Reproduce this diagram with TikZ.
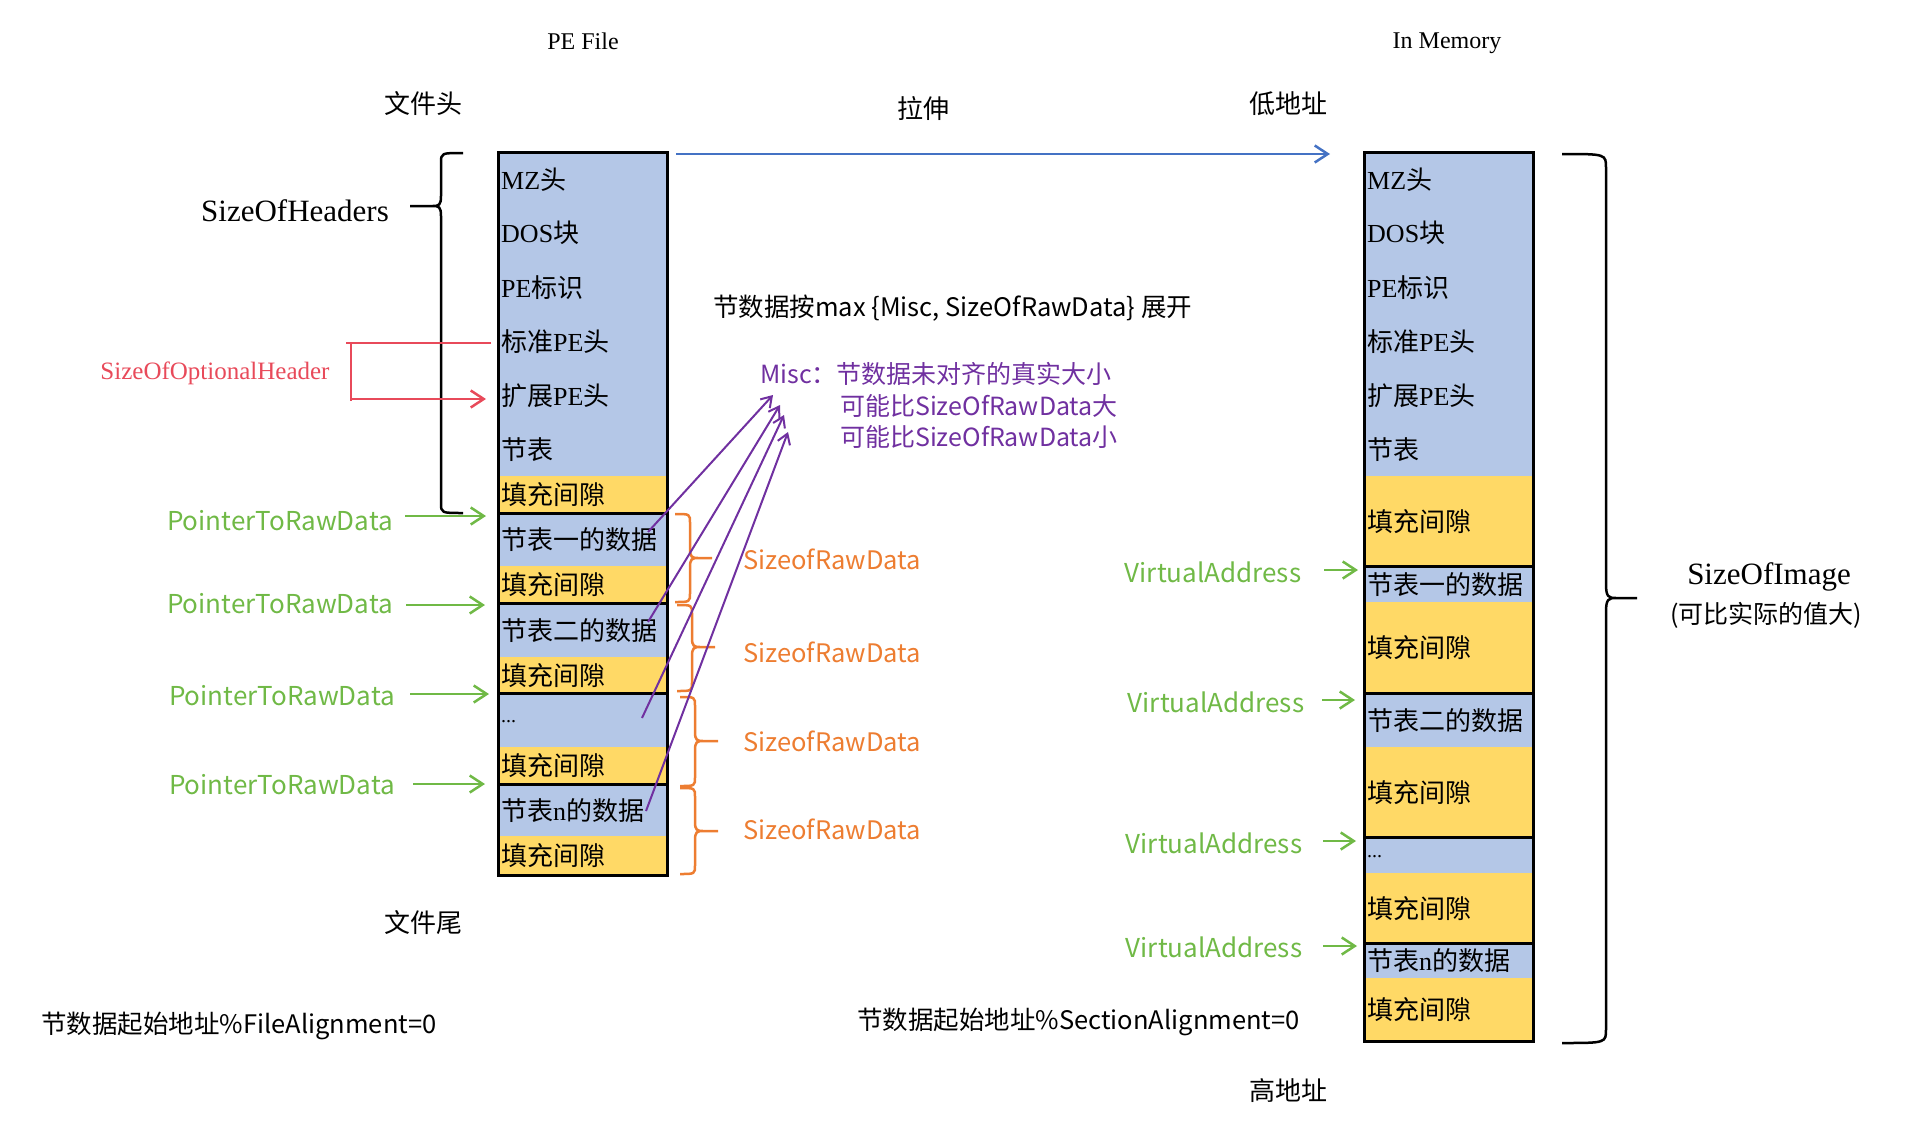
\documentclass[tikz,border=0pt]{standalone}
\usepackage{fontspec}
\setmainfont{Liberation Serif}
\newfontfamily\cjk{Noto Sans CJK SC}
\usetikzlibrary{arrows.meta}
\definecolor{cellblue}{HTML}{B4C7E7}
\definecolor{cellyellow}{HTML}{FFD966}
\definecolor{gr}{HTML}{70B946}
\definecolor{og}{HTML}{ED7D31}
\definecolor{pu}{HTML}{7030A0}
\definecolor{rd}{HTML}{E84A5A}
\definecolor{bl}{HTML}{4472C4}
\newcommand\zh[1]{{\cjk #1}}
\newcommand\fsz[1]{\fontsize{#1}{#1}\selectfont}
% brace: #1 end x, #2 spine x, #3 tip x, #4 top y, #5 tip y, #6 bottom y, #7 signed x radius, #8 y radius, #9 style
\newcommand\bracedraw[9]{%
  \draw[#9] (#1,#4) .. controls (#2,#4) and (#2,#4) .. (#2,{#4+#8}) -- (#2,{#5-#8})
    .. controls (#2,{#5-1}) and ({#2+(#7)/4},#5) .. ({#2+(#7)},#5) -- (#3,#5) -- ({#2+(#7)},#5)
    .. controls ({#2+(#7)/4},#5) and (#2,{#5+1}) .. (#2,{#5+#8}) -- (#2,{#6-#8})
    .. controls (#2,#6) and (#2,#6) .. (#1,#6);}
\begin{document}
\begin{tikzpicture}[x=1pt,y=-1pt,
  cell/.style={inner xsep=3pt, inner ysep=0pt, minimum width=169pt, text width=163pt,
    align=left, anchor=north west, font=\fsz{26}},
  bcell/.style={cell, fill=cellblue},
  ycell/.style={cell, fill=cellyellow},
  sep/.style={line width=3pt, line cap=rect},
  lbl/.style={font=\cjk\fsz{26}},
  wlbl/.style={font=\cjk\fsz{25.5}, anchor=west, inner sep=0pt},
  glbl/.style={font=\cjk\fsz{26}, text=gr},
  olbl/.style={font=\cjk\fsz{25.5}, text=og, anchor=west, inner sep=0pt},
  plbl/.style={font=\cjk\fsz{25}, text=pu, anchor=west, inner sep=0pt},
  barb/.style={-{Straight Barb[length=13pt,width=17pt]}},
  garr/.style={barb, draw=gr, line width=2.5pt},
  parr/.style={-{Straight Barb[length=10pt,width=13pt]}, draw=pu, line width=2pt},
  brc/.style={line width=2.5pt},
]
\useasboundingbox (0,0) rectangle (1924,1124);

% ---------- left box (PE File) ----------
\node[bcell, minimum height=54pt] (l1) at (498,152) {MZ\zh{头}};
\node[bcell, minimum height=54pt] (l2) at (498,206) {DOS\zh{块}};
\node[bcell, minimum height=54pt] (l3) at (498,260) {PE\zh{标识}};
\node[bcell, minimum height=54pt] (l4) at (498,314) {\zh{标准}PE\zh{头}};
\node[bcell, minimum height=54pt] (l5) at (498,368) {\zh{扩展}PE\zh{头}};
\node[bcell, minimum height=54pt] (l6) at (498,422) {\zh{节表}};
\node[ycell, minimum height=37pt] (l7) at (498,476) {\zh{填充间隙}};
\node[bcell, minimum height=53pt] (l8) at (498,513) {\zh{节表一的数据}};
\node[ycell, minimum height=37pt] (l9) at (498,566) {\zh{填充间隙}};
\node[bcell, minimum height=54pt] (l10) at (498,603) {\zh{节表二的数据}};
\node[ycell, minimum height=36pt] (l11) at (498,657) {\zh{填充间隙}};
\node[bcell, minimum height=54pt] (l12) at (498,693) {\fsz{20}\raisebox{-5pt}{...}};
\node[ycell, minimum height=37pt] (l13) at (498,747) {\zh{填充间隙}};
\node[bcell, minimum height=52pt] (l14) at (498,784) {\zh{节表}n\zh{的数据}};
\node[ycell, minimum height=39pt] (l15) at (498,836) {\zh{填充间隙}};
\draw[sep] (l8.north west) -- (l8.north east);
\draw[sep] (l10.north west) -- (l10.north east);
\draw[sep] (l12.north west) -- (l12.north east);
\draw[sep] (l14.north west) -- (l14.north east);
\draw[line width=3pt] (l1.north west) rectangle (l15.south east);

% ---------- right box (In Memory) ----------
\node[bcell, minimum height=54pt] (r1) at (1364,152) {MZ\zh{头}};
\node[bcell, minimum height=54pt] (r2) at (1364,206) {DOS\zh{块}};
\node[bcell, minimum height=54pt] (r3) at (1364,260) {PE\zh{标识}};
\node[bcell, minimum height=54pt] (r4) at (1364,314) {\zh{标准}PE\zh{头}};
\node[bcell, minimum height=54pt] (r5) at (1364,368) {\zh{扩展}PE\zh{头}};
\node[bcell, minimum height=54pt] (r6) at (1364,422) {\zh{节表}};
\node[ycell, minimum height=90pt] (r7) at (1364,476) {\zh{填充间隙}};
\node[bcell, minimum height=36pt] (r8) at (1364,566) {\zh{节表一的数据}};
\node[ycell, minimum height=91pt] (r9) at (1364,602) {\zh{填充间隙}};
\node[bcell, minimum height=54pt] (r10) at (1364,693) {\zh{节表二的数据}};
\node[ycell, minimum height=90pt] (r11) at (1364,747) {\zh{填充间隙}};
\node[bcell, minimum height=36pt] (r12) at (1364,837) {\fsz{20}\raisebox{-5pt}{...}};
\node[ycell, minimum height=70pt] (r13) at (1364,873) {\zh{填充间隙}};
\node[bcell, minimum height=35pt] (r14) at (1364,943) {\zh{节表}n\zh{的数据}};
\node[ycell, minimum height=63pt] (r15) at (1364,978) {\zh{填充间隙}};
\draw[sep] (r8.north west) -- (r8.north east);
\draw[sep] (r10.north west) -- (r10.north east);
\draw[sep] (r12.north west) -- (r12.north east);
\draw[sep] (r14.north west) -- (r14.north east);
\draw[line width=3pt] (r1.north west) rectangle (r15.south east);

% ---------- titles ----------
\node[font=\fsz{24}] (pefile) at (583,41) {PE File};
\node[font=\fsz{24}] (inmem) at (1447,43) {In Memory};
\node[lbl] (wjt) at (423,104) {文件头};
\node[lbl] (ls) at (923,109) {拉伸};
\node[lbl] (ddz) at (1288,104) {低地址};
\node[lbl] (wjw) at (423,923) {文件尾};
\node[lbl] (gdz) at (1288,1091) {高地址};

% stretch arrow
\coordinate (bs) at (676,154);
\coordinate (be) at (1330,154);
\draw[barb, draw=bl, line width=2.5pt] (bs) -- (be);

% ---------- SizeOfHeaders brace ----------
\node[font=\fsz{31}] (soh) at (295,211) {SizeOfHeaders};
\bracedraw{463}{441}{410}{153}{206}{513}{-8}{10}{brc}

% ---------- SizeOfOptionalHeader ----------
\node[font=\fsz{25}, text=rd] (sooh) at (215,373) {SizeOfOptionalHeader};
\coordinate (ra) at (491,343);
\coordinate (rb) at (346,343);
\coordinate (rc) at (351,343);
\coordinate (rd1) at (351,401);
\coordinate (re) at (351,399);
\coordinate (rf) at (486,399);
\draw[draw=rd, line width=2.5pt] (ra) -- (rb) (rc) -- (rd1);
\draw[barb, draw=rd, line width=2.5pt] (re) -- (rf);

% ---------- PointerToRawData ----------
\node[glbl] (p1) at (280,521) {PointerToRawData};
\node[glbl] (p2) at (280,604) {PointerToRawData};
\node[glbl] (p3) at (282,696) {PointerToRawData};
\node[glbl] (p4) at (282,785) {PointerToRawData};
\coordinate (p1s) at (405,516); \coordinate (p1e) at (486,516);
\coordinate (p2s) at (406,605); \coordinate (p2e) at (485,605);
\coordinate (p3s) at (410,694); \coordinate (p3e) at (489,694);
\coordinate (p4s) at (413,784); \coordinate (p4e) at (485,784);
\draw[garr] (p1s) -- (p1e);
\draw[garr] (p2s) -- (p2e);
\draw[garr] (p3s) -- (p3e);
\draw[garr] (p4s) -- (p4e);

% ---------- SizeofRawData braces ----------
\bracedraw{675}{690}{712}{514}{558}{602}{8}{9}{brc, draw=og}
\bracedraw{677}{692}{715}{605}{647}{691}{8}{9}{brc, draw=og}
\bracedraw{680}{695}{718}{697}{741}{786}{8}{9}{brc, draw=og}
\bracedraw{680}{695}{718}{788}{831}{874}{8}{9}{brc, draw=og}
\node[olbl] (s1) at (743,559) {SizeofRawData};
\node[olbl] (s2) at (743,652) {SizeofRawData};
\node[olbl] (s3) at (743,741) {SizeofRawData};
\node[olbl] (s4) at (743,829) {SizeofRawData};

% ---------- max / Misc ----------
\node[wlbl] (maxt) at (713,308) {节数据按max \{Misc, SizeOfRawData\} 展开};
\node[plbl] (misc1) at (760,374) {Misc：节数据未对齐的真实大小};
\node[plbl] (misc2) at (840,406) {可能比SizeOfRawData大};
\node[plbl] (misc3) at (840,437) {可能比SizeOfRawData小};
\coordinate (m1s) at (648,532); \coordinate (m1e) at (773,395);
\coordinate (m2s) at (648,622); \coordinate (m2e) at (780,405);
\coordinate (m3s) at (642,718); \coordinate (m3e) at (784,415);
\coordinate (m4s) at (646,811); \coordinate (m4e) at (788,432);
\draw[parr] (m1s) -- (m1e);
\draw[parr] (m2s) -- (m2e);
\draw[parr] (m3s) -- (m3e);
\draw[parr] (m4s) -- (m4e);

% ---------- VirtualAddress ----------
\node[glbl] (v1) at (1213,572) {VirtualAddress};
\node[glbl] (v2) at (1216,702) {VirtualAddress};
\node[glbl] (v3) at (1214,843) {VirtualAddress};
\node[glbl] (v4) at (1214,947) {VirtualAddress};
\coordinate (v1s) at (1324,570); \coordinate (v1e) at (1358,570);
\coordinate (v2s) at (1322,700); \coordinate (v2e) at (1355,700);
\coordinate (v3s) at (1323,841); \coordinate (v3e) at (1356,841);
\coordinate (v4s) at (1323,946); \coordinate (v4e) at (1357,946);
\draw[garr] (v1s) -- (v1e);
\draw[garr] (v2s) -- (v2e);
\draw[garr] (v3s) -- (v3e);
\draw[garr] (v4s) -- (v4e);

% ---------- SizeOfImage ----------
\bracedraw{1562}{1606}{1637}{154}{598}{1043}{10}{14}{brc}
\node[font=\fsz{31}] (soi) at (1769,577) {SizeOfImage};
\node[font=\cjk\fsz{25}] (soi2) at (1766,615) {(可比实际的值大)};

% ---------- alignment notes ----------
\node[wlbl] (fa) at (41,1026) {节数据起始地址\%FileAlignment=0};
\node[wlbl] (sa) at (857,1022) {节数据起始地址\%SectionAlignment=0};
\end{tikzpicture}
\end{document}
